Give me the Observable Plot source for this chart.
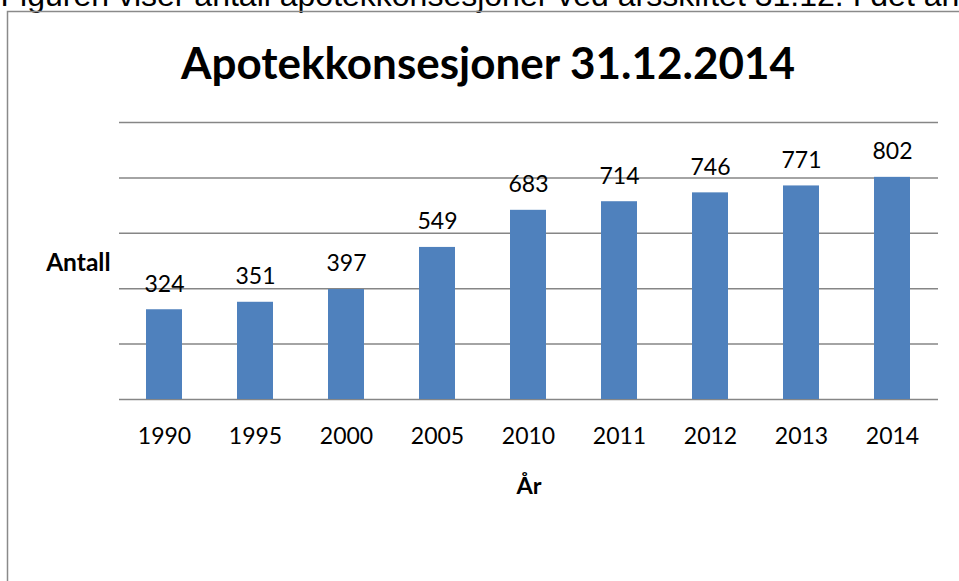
<!DOCTYPE html>
<html>
<head>
<meta charset="utf-8">
<script src="https://cdn.jsdelivr.net/npm/d3@7"></script>
<script src="https://cdn.jsdelivr.net/npm/@observablehq/plot@0.6"></script>
<style>
  html, body { margin: 0; padding: 0; background: #fff; }
  #chart { width: 959px; height: 581px; overflow: hidden; }
</style>
</head>
<body>
<div id="chart"></div>
<script>
const years = ["1990", "1995", "2000", "2005", "2010", "2011", "2012", "2013", "2014"];
const counts = [324, 351, 397, 549, 683, 714, 746, 771, 802];
const gridTicks = [0, 200, 400, 600, 800, 1000];
const titleText = "Apotekkonsesjoner 31.12.2014";
const xLabel = "År";
const yLabel = "Antall";
const introText = "Figuren viser antall apotekkonsesjoner ved årsskiftet 31.12. I det an";

const data = years.map((y, i) => ({year: y, count: counts[i]}));
const font = "Lato, 'Open Sans', sans-serif";

const chart = Plot.plot({
  width: 959,
  height: 581,
  marginLeft: 119,
  marginRight: 21,
  marginTop: 122,
  marginBottom: 182,
  style: {fontFamily: font, background: "#fff", overflow: "hidden"},
  x: {domain: years, paddingInner: 0.6, paddingOuter: 0.3, label: null},
  y: {domain: [0, 1000], label: null, axis: null},
  marks: [
    Plot.ruleY(gridTicks, {stroke: "#868686", strokeWidth: 1.5}),
    Plot.barY(data, {x: "year", y: "count", fill: "#4F81BD"}),
    Plot.text(data, {x: "year", y: "count", text: d => String(d.count), dy: -25.5, fontSize: 23, fill: "#000", lineAnchor: "middle"}),
    Plot.axisX({tickSize: 0, tickPadding: 28, fontSize: 23, fill: "#000", label: null}),
    Plot.text([titleText], {frameAnchor: "top", dx: -41, dy: -58, fontSize: 44, fontWeight: "bold", fill: "#000", lineAnchor: "middle"}),
    Plot.text([yLabel], {frameAnchor: "left", textAnchor: "end", dx: -9, dy: 1.7, fontSize: 24.5, fontWeight: "bold", fill: "#000", lineAnchor: "middle"}),
    Plot.text([xLabel], {frameAnchor: "bottom", dy: 87, fontSize: 23.5, fontWeight: "bold", fill: "#000", lineAnchor: "middle"}),
    Plot.text([introText], {frameAnchor: "top-left", dx: -119, dy: -126.5, fontSize: 32, fontFamily: "'Liberation Sans', Arial, sans-serif", fill: "#000", textAnchor: "start", lineAnchor: "middle"})
  ]
});

// Decorative frame border of the embedded chart (top and left edges)
const svg = d3.select(chart);
svg.append("path")
  .attr("d", "M7.5,581V11.5H959")
  .attr("fill", "none")
  .attr("stroke", "#8a8a8a")
  .attr("stroke-width", 1.5);

document.getElementById("chart").appendChild(chart);
</script>
</body>
</html>
